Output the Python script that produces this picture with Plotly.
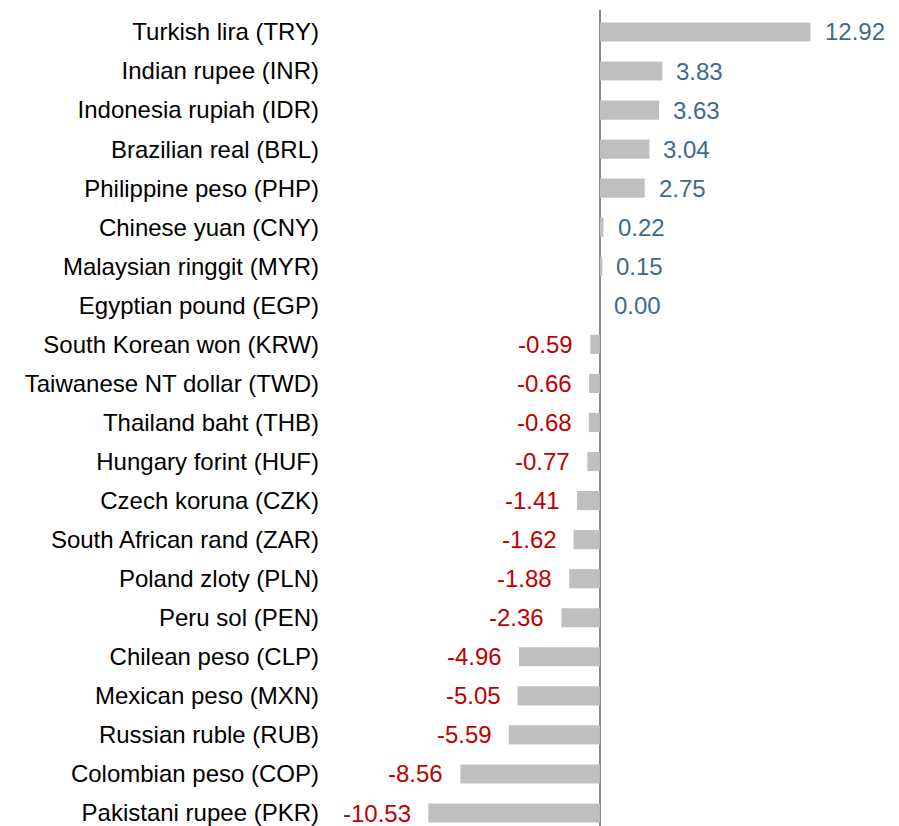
import plotly.graph_objects as go

categories = [
    "Turkish lira (TRY)", "Indian rupee (INR)", "Indonesia rupiah (IDR)",
    "Brazilian real (BRL)", "Philippine peso (PHP)", "Chinese yuan (CNY)",
    "Malaysian ringgit (MYR)", "Egyptian pound (EGP)", "South Korean won (KRW)",
    "Taiwanese NT dollar (TWD)", "Thailand baht (THB)", "Hungary forint (HUF)",
    "Czech koruna (CZK)", "South African rand (ZAR)", "Poland zloty (PLN)",
    "Peru sol (PEN)", "Chilean peso (CLP)", "Mexican peso (MXN)",
    "Russian ruble (RUB)", "Colombian peso (COP)", "Pakistani rupee (PKR)",
]
values = [12.92, 3.83, 3.63, 3.04, 2.75, 0.22, 0.15, 0.00, -0.59, -0.66, -0.68,
          -0.77, -1.41, -1.62, -1.88, -2.36, -4.96, -5.05, -5.59, -8.56, -10.53]

POS_COLOR = "#3d6b8c"
NEG_COLOR = "#c00000"
BAR_COLOR = "#bfbfbf"
FONT = "Liberation Sans, Arial, sans-serif"
FS = 24

fig = go.Figure()
fig.add_trace(go.Bar(
    y=categories, x=values, orientation="h",
    marker=dict(color=BAR_COLOR, line=dict(width=0)),
    hoverinfo="skip",
))

annotations = []
for c, v in zip(categories, values):
    pos = v >= 0
    annotations.append(dict(
        x=v, y=c, xref="x", yref="y",
        text=f"{v:.2f}",
        showarrow=False,
        xanchor="left" if pos else "right",
        yanchor="middle",
        xshift=12 if pos else -15,
        font=dict(family=FONT, size=FS, color=POS_COLOR if pos else NEG_COLOR),
    ))

fig.update_layout(
    width=899, height=826,
    margin=dict(l=322, r=8, t=2, b=8),
    paper_bgcolor="white", plot_bgcolor="white",
    bargap=0.51,
    showlegend=False,
    annotations=annotations,
    font=dict(family=FONT, size=FS, color="#000000"),
    xaxis=dict(
        range=[-16.56, 18.35],
        showgrid=False, showticklabels=False, ticks="",
        zeroline=True, zerolinecolor="#888888", zerolinewidth=2,
        showline=False,
    ),
    yaxis=dict(
        range=[20.333, -0.563],
        showgrid=False, ticks="", showline=False, zeroline=False,
        ticklabelstandoff=10,
        automargin=False,
        tickfont=dict(family=FONT, size=FS, color="#000000"),
    ),
)

fig.write_html("out.html")
